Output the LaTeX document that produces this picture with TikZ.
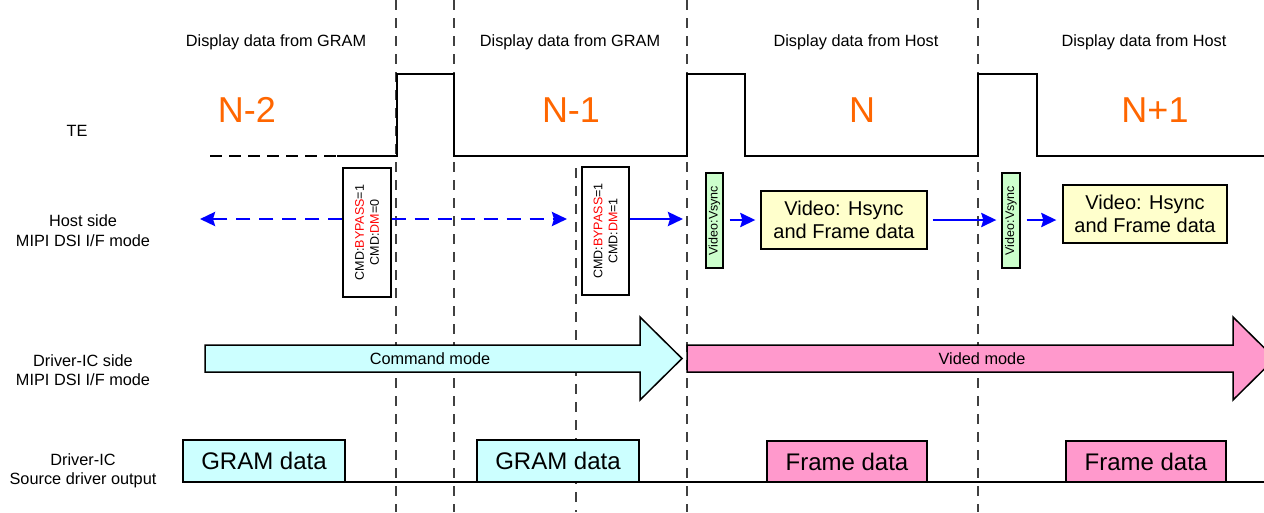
\documentclass[tikz,border=0pt]{standalone}
\usepackage{fontspec}
\setmainfont{Liberation Sans}
\usetikzlibrary{arrows.meta}
\definecolor{cmdcyan}{HTML}{CCFFFF}
\definecolor{vidpink}{HTML}{FF99CC}
\definecolor{vsgreen}{HTML}{CCFFCC}
\definecolor{hyellow}{HTML}{FFFFCC}
\definecolor{norange}{HTML}{FF6600}
\definecolor{cmdred}{HTML}{FF0000}
\definecolor{hblue}{HTML}{0000FF}
\newcommand\fsLbl{\fontsize{16.3}{19}\selectfont}
\newcommand\fsBig{\fontsize{36}{40}\selectfont}
\newcommand\fsSmall{\fontsize{12.5}{15}\selectfont}
\newcommand\fsVid{\fontsize{20}{23.5}\selectfont}
\newcommand\fsData{\fontsize{24}{28}\selectfont}
\begin{document}
\begin{tikzpicture}[x=1pt,y=-1pt,
  vdash/.style={black!75, line width=1.4pt, dash pattern=on 10pt off 8pt},
  wave/.style={line width=2pt, line join=miter},
  harrow/.style={hblue, line width=2.8pt, -{Stealth[length=15pt,width=14pt,inset=2pt]}},
  hdash/.style={harrow, dash pattern=on 14pt off 9pt},
  box/.style={draw, line width=1.3pt, inner sep=0pt},
  lbl/.style={font=\fsLbl, anchor=base, inner sep=0pt},
  nlbl/.style={font=\fsBig, text=norange, anchor=base, inner sep=0pt},
  bigarrow/.style={draw, line width=1.5pt, line join=miter},
]
\useasboundingbox (0,0) rectangle (1264,512);
\clip (0,0) rectangle (1264,512);

% vertical dashed guide lines
\draw[vdash] (396,0) -- (396,512);
\draw[vdash] (454,0) -- (454,512);
\draw[vdash] (687,0) -- (687,512);
\draw[vdash] (978,0) -- (978,512);
\draw[vdash] (576,168) -- (576,512);

% top labels
\node[lbl] (t1) at (276,46) {Display data from GRAM};
\node[lbl] (t2) at (570,46) {Display data from GRAM};
\node[lbl] (t3) at (856,46) {Display data from Host};
\node[lbl] (t4) at (1144,46) {Display data from Host};

% frame numbers
\node[nlbl] (n1) at (247,122) {N-2};
\node[nlbl] (n2) at (571,122) {N-1};
\node[nlbl] (n3) at (862,122) {N};
\node[nlbl] (n4) at (1155,122) {N+1};

% TE waveform
\node[lbl] (te) at (77,136) {TE};
\draw[wave, dash pattern=on 12pt off 7pt] (210,156) -- (337,156);
\draw[wave] (337,156) -- (397,156) -- (397,74) -- (454,74) -- (454,156)
  -- (687,156) -- (687,74) -- (745,74) -- (745,156) -- (978,156)
  -- (978,74) -- (1037,74) -- (1037,156) -- (1264,156);

% left row labels
\node[lbl] (hs1) at (83,226) {Host side};
\node[lbl] (hs2) at (83,246) {MIPI DSI I/F mode};
\node[lbl] (ds1) at (83,366) {Driver-IC side};
\node[lbl] (ds2) at (83,385) {MIPI DSI I/F mode};
\node[lbl] (so1) at (83,465) {Driver-IC};
\node[lbl] (so2) at (83,484) {Source driver output};

% host side
\node[box, fill=white, minimum width=48pt, minimum height=129pt] (cmd1) at (367,232.5) {};
\node[rotate=90, align=center, font=\fsSmall, inner sep=0pt] (cmd1t) at (cmd1)
  {CMD:\textcolor{cmdred}{BYPASS}=1\\CMD:\textcolor{cmdred}{DM}=0};
\node[box, fill=white, minimum width=47pt, minimum height=128pt] (cmd2) at (605.5,231) {};
\node[rotate=90, align=center, font=\fsSmall, inner sep=0pt] (cmd2t) at (cmd2)
  {CMD:\textcolor{cmdred}{BYPASS}=1\\CMD:\textcolor{cmdred}{DM}=1};

\node[box, fill=vsgreen, minimum width=17pt, minimum height=95pt] (vs1) at (714.5,220.5) {};
\node[rotate=90, font=\fsSmall, inner sep=0pt] (vs1t) at (vs1) {Video:Vsync};
\node[box, fill=vsgreen, minimum width=18pt, minimum height=95pt] (vs2) at (1011,220.5) {};
\node[rotate=90, font=\fsSmall, inner sep=0pt] (vs2t) at (vs2) {Video:Vsync};

\node[box, fill=hyellow, minimum width=166pt, minimum height=58pt, align=center, font=\fsVid] (vid1) at (844,220) {Video: Hsync\\and Frame data};
\node[box, fill=hyellow, minimum width=164pt, minimum height=58pt, align=center, font=\fsVid] (vid2) at (1145,214) {Video: Hsync\\and Frame data};

\coordinate (hy) at (0,219);
\coordinate (hL) at (200,219);
\coordinate (hR) at (567,219);
\coordinate (hV) at (683,219);
\draw[hdash] (cmd1.west |- hy) -- (hL);
\draw[hdash] (cmd1.east |- hy) -- (hR);
\draw[harrow] (cmd2.east |- hy) -- (hV);
\coordinate (vy) at (0,220);
\draw[harrow, shorten <=6pt, shorten >=5pt] (vs1.east |- vy) -- (vid1.west |- vy);
\draw[harrow, shorten <=5pt, shorten >=5pt] (vid1.east |- vy) -- (vs2.west |- vy);
\draw[harrow, shorten <=6pt, shorten >=6pt] (vs2.east |- vy) -- (vid2.west |- vy);

% driver IC side big arrows
\draw[bigarrow, fill=cmdcyan] (205,345) -- (640,345) -- (640,317) -- (682,358.5)
  -- (640,400) -- (640,372) -- (205,372) -- cycle;
\node[font=\fsLbl, inner sep=0pt] (cmdmode) at (430,358.5) {Command mode};
\draw[bigarrow, fill=vidpink] (687,345) -- (1233,345) -- (1233,317) -- (1275,358.5)
  -- (1233,400) -- (1233,372) -- (687,372) -- cycle;
\node[font=\fsLbl, inner sep=0pt] (vidmode) at (982,358.5) {Vided mode};

% source driver output
\coordinate (bl) at (337,482);
\coordinate (br) at (1264,482);
\draw[line width=1.8pt] (bl) -- (br);
\node[box, fill=cmdcyan, minimum width=162pt, minimum height=42pt, font=\fsData] (g1) at (264,461) {GRAM data};
\node[box, fill=cmdcyan, minimum width=162pt, minimum height=42pt, font=\fsData] (g2) at (558,461) {GRAM data};
\node[box, fill=vidpink, minimum width=160pt, minimum height=41pt, font=\fsData] (f1) at (847,461.5) {Frame data};
\node[box, fill=vidpink, minimum width=160pt, minimum height=41pt, font=\fsData] (f2) at (1146,461.5) {Frame data};
\end{tikzpicture}
\end{document}
